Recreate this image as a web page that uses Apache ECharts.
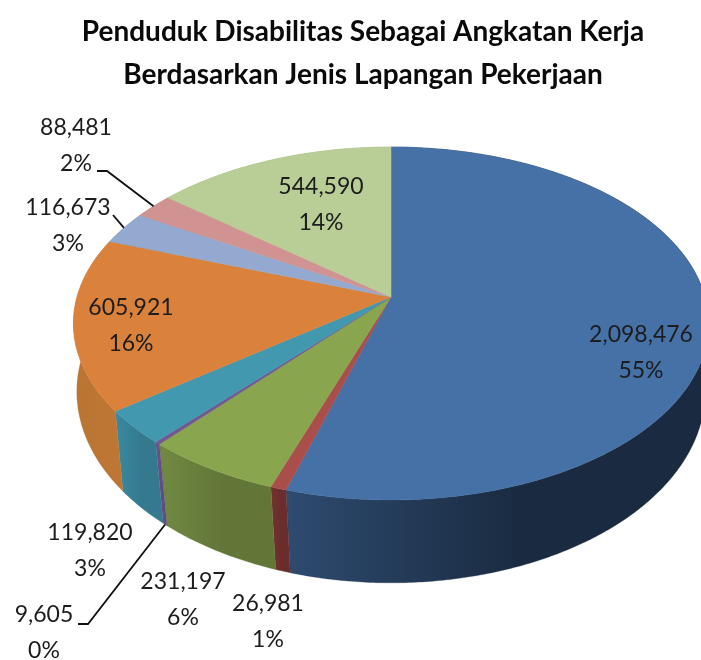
<!DOCTYPE html>
<html>
<head>
<meta charset="utf-8">
<title>Penduduk Disabilitas</title>
<script src="https://cdn.jsdelivr.net/npm/echarts@6/dist/echarts.min.js"></script>
<style>
html, body { margin: 0; padding: 0; background: #fff; }
#main { width: 701px; height: 660px; }
</style>
</head>
<body>
<div id="main"></div>
<script>
// nilai tiap irisan, searah jarum jam dari atas
var values = [2098476, 26981, 231197, 9605, 119820, 605921, 116673, 88481, 544590];
var topColors = ['#4571a7', '#a94e4b', '#89a54e', '#71588f', '#4198af', '#da823b', '#93a9cf', '#d19392', '#b9cd96'];
var sideLeft = ['#2e4b70', '#733231', '#718a42', '#6c5490', '#398aa0', '#b97532', '#7d90b0', '#b27d7c', '#9daf80'];
var sideRight = ['#1a2b41', '#6b2d2c', '#627638', '#634b80', '#34798d', '#bd7633', '#7d90b0', '#b27d7c', '#9daf80'];

var titleText = 'Penduduk Disabilitas Sebagai Angkatan Kerja\nBerdasarkan Jenis Lapangan Pekerjaan';

// posisi label [x, y] untuk tiap irisan
var labelPos = [[641, 353], [268, 622], [183, 600], [44, 633], [90, 551], [131, 326], [68, 226], [76, 146], [321, 205]];

// garis penunjuk: index irisan dan titik awal
var leaders = [
    { idx: 7, pts: [[97, 171], [107, 171]] },
    { idx: 6, pts: [[113, 215]] },
    { idx: 3, pts: [[78, 624], [88, 624]] }
];

// proyeksi perspektif lingkaran ke bidang gambar
var cx = 391;
var topDisc = { y: 297, rx: 314, ry: 172.5, k: 0.15 };
var bottomDisc = { y: 369, rx: 312, ry: 188.6, k: 0.118 };

var total = values.reduce(function (a, b) { return a + b; }, 0);
var startAngles = [];
(function () {
    var acc = 0;
    values.forEach(function (v) {
        startAngles.push(acc / total * Math.PI * 2);
        acc += v;
    });
})();

function project(theta, isBottom) {
    var d = isBottom ? bottomDisc : topDisc;
    var u = Math.sin(theta), v = -Math.cos(theta);
    var w = 1 - d.k * v;
    return [cx + d.rx * u / w, d.y + d.ry * v / w];
}

function rim(a0, a1, isBottom) {
    var n = Math.max(2, Math.ceil((a1 - a0) / 0.01));
    var pts = [];
    for (var i = 0; i <= n; i++) {
        pts.push(project(a0 + (a1 - a0) * i / n, isBottom));
    }
    return pts;
}

function sliceRange(i) {
    var a0 = startAngles[i];
    return [a0, a0 + values[i] / total * Math.PI * 2];
}

function renderSide(params, api) {
    var i = params.dataIndex;
    var r = sliceRange(i);
    var pts = rim(r[0], r[1], false).concat(rim(r[0], r[1], true).reverse());
    return {
        type: 'polygon',
        shape: { points: pts },
        style: {
            fill: new echarts.graphic.LinearGradient(0, 0, 1, 0, [
                { offset: 0, color: sideLeft[i] },
                { offset: 0.55, color: sideRight[i] },
                { offset: 1, color: sideRight[i] }
            ]),
            stroke: sideRight[i],
            lineWidth: 0.3
        }
    };
}

function renderTop(params, api) {
    var i = params.dataIndex;
    var r = sliceRange(i);
    var pts = [[cx, topDisc.y]].concat(rim(r[0], r[1], false));
    return {
        type: 'polygon',
        shape: { points: pts },
        style: { fill: topColors[i], stroke: topColors[i], lineWidth: 0.5 }
    };
}

function renderLabel(params, api) {
    var i = params.dataIndex;
    var v = api.value(0);
    var txt = v.toLocaleString('en-US') + '\n' + Math.round(v / total * 100) + '%';
    return {
        type: 'text',
        style: {
            text: txt,
            x: labelPos[i][0],
            y: labelPos[i][1],
            align: 'center',
            verticalAlign: 'middle',
            lineHeight: 36,
            font: '23px Lato',
            fill: '#1c1c1c'
        }
    };
}

var leaderGraphics = leaders.map(function (l) {
    var r = sliceRange(l.idx);
    var mid = (r[0] + r[1]) / 2;
    // 9,605 menempel di tepi bawah, yang lain di tepi atas
    var end = project(mid, mid > Math.PI / 2 && mid < Math.PI * 1.5);
    return {
        type: 'polyline',
        z: 10,
        shape: { points: l.pts.concat([end]) },
        style: { stroke: '#111', lineWidth: 1.8, fill: null }
    };
});

var seriesData = values.map(function (v) { return { value: v }; });

var chart = echarts.init(document.getElementById('main'));
chart.setOption({
    animation: false,
    backgroundColor: '#fff',
    title: {
        text: titleText,
        left: 358,
        top: 5,
        textAlign: 'center',
        textStyle: {
            fontFamily: 'Lato',
            fontWeight: 'bold',
            fontSize: 28,
            lineHeight: 43,
            color: '#0a0a0a'
        }
    },
    graphic: leaderGraphics,
    series: [
        { type: 'custom', coordinateSystem: 'none', z: 1, renderItem: renderSide, data: seriesData, silent: true },
        { type: 'custom', coordinateSystem: 'none', z: 2, renderItem: renderTop, data: seriesData, silent: true },
        { type: 'custom', coordinateSystem: 'none', z: 3, renderItem: renderLabel, data: seriesData, silent: true }
    ]
});
</script>
</body>
</html>
